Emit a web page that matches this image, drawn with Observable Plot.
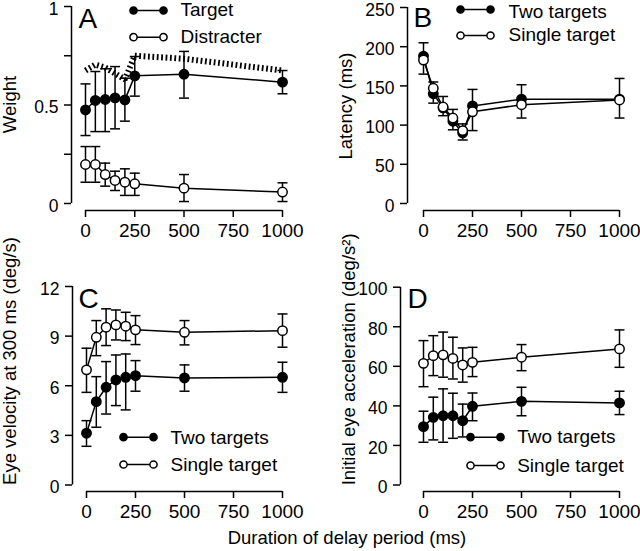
<!DOCTYPE html>
<html><head><meta charset="utf-8">
<script src="https://cdn.jsdelivr.net/npm/d3@7"></script>
<script src="https://cdn.jsdelivr.net/npm/@observablehq/plot@0.6"></script>
<style>
body{margin:0;background:#fff;}
#fig{position:relative;width:640px;height:551px;font-family:"Liberation Sans",Arial,Helvetica,sans-serif;color:#000;overflow:hidden;background:#fff}
.panel{position:absolute}
#xlab{position:absolute;left:0;width:694px;text-align:center;top:527px;font-size:18.5px;line-height:21px}
</style></head><body>
<div id="fig"><div id="xlab">Duration of delay period (ms)</div></div>
<script>
// ---- shared x values ----
const delays = [0, 50, 100, 150, 200, 250, 500, 1000];
const xTicks = [0, 250, 500, 750, 1000];
const xLabel = "Duration of delay period (ms)";

// ---- Panel A: Weight ----
const targetW   = [0.475, 0.523, 0.528, 0.536, 0.526, 0.648, 0.656, 0.616];
const targetWLo = [0.345, 0.365, 0.365, 0.379, 0.418, 0.545, 0.535, 0.557];
const targetWHi = [0.607, 0.670, 0.684, 0.695, 0.636, 0.746, 0.772, 0.675];
const distW     = [0.198, 0.198, 0.147, 0.117, 0.108, 0.100, 0.078, 0.058];
const distWLo   = [0.108, 0.108, 0.088, 0.066, 0.041, 0.041, 0.010, 0.010];
const distWHi   = [0.289, 0.289, 0.205, 0.164, 0.176, 0.154, 0.147, 0.105];
const sumW      = [0.675, 0.705, 0.690, 0.660, 0.630, 0.750, 0.735, 0.675];
const yTicksA = [0, 0.25, 0.5, 0.75, 1];
const yTickLabelsA = ["0", "", "0.5", "", "1"];

// ---- Panel B: Latency ----
const twoLat    = [188, 140, 122, 105, 90, 124.5, 133, 133];
const singleLat = [183, 147, 123, 109, 93, 117, 126, 132];
const latLo     = [165, 128, 112, 94, 81, 93, 109, 109];
const latHi     = [205, 155, 136.5, 120, 101.5, 145.5, 151.5, 159.5];
const yTicksB = [0, 50, 100, 150, 200, 250];

// ---- Panel C: Eye velocity ----
const twoVel      = [3.13, 5.04, 5.91, 6.35, 6.51, 6.61, 6.47, 6.51];
const twoVelLo    = [2.34, 3.49, 4.29, 4.80, 4.54, 5.67, 5.67, 5.60];
const twoVelHi    = [3.89, 6.55, 7.46, 7.86, 7.92, 7.52, 7.26, 7.42];
const singleVel   = [6.96, 8.93, 9.54, 9.68, 9.60, 9.38, 9.23, 9.33];
const singleVelLo = [5.60, 7.82, 8.43, 8.77, 8.73, 8.49, 8.47, 8.33];
const singleVelHi = [8.27, 9.94, 10.65, 10.58, 10.44, 10.24, 9.94, 10.34];
const yTicksC = [0, 3, 6, 9, 12];

// ---- Panel D: Initial eye acceleration ----
const twoAcc      = [29.5, 34.2, 35.0, 35.0, 32.5, 39.8, 42.3, 41.5];
const twoAccLo    = [21.6, 22.8, 21.6, 23.6, 24.3, 32.5, 35.0, 35.6];
const twoAccHi    = [37.3, 44.4, 48.6, 46.4, 40.9, 46.5, 49.4, 47.4];
const singleAcc   = [61.5, 65.4, 65.8, 64.0, 60.7, 62.0, 64.6, 68.8];
const singleAccLo = [49.7, 55.3, 54.5, 53.6, 52.0, 54.8, 57.8, 59.5];
const singleAccHi = [73.0, 75.5, 77.3, 74.7, 69.3, 69.6, 71.0, 78.4];
const yTicksD = [0, 20, 40, 60, 80, 100];

const legendTD = ["Two targets", "Single target"];
const legendA = ["Target", "Distracter"];

// ---- helpers ----
const rows = (ys, lo, hi) => delays.map((x, i) => ({x, y: ys[i], lo: lo ? lo[i] : null, hi: hi ? hi[i] : null}));
const capSymbol = {draw(ctx) { ctx.moveTo(-5, 0); ctx.lineTo(5, 0); }};
const legendSymbol = {draw(ctx) {
  const h = 15, r = 3.6;
  ctx.moveTo(-h + r, 0); ctx.lineTo(h - r, 0);
  ctx.moveTo(-h + r, 0); ctx.arc(-h, 0, r, 0, 2 * Math.PI);
  ctx.moveTo(h + r, 0); ctx.arc(h, 0, r, 0, 2 * Math.PI);
}};
const SW = 1.5;

function seriesMarks(s) {
  const d = s.data;
  const m = [];
  if (s.errors) {
    m.push(Plot.ruleX(d, {x: "x", y1: "lo", y2: "hi", stroke: "black", strokeWidth: SW}));
    m.push(Plot.dot(d, {x: "x", y: "hi", symbol: capSymbol, stroke: "black", strokeWidth: SW, fill: "none"}));
    m.push(Plot.dot(d, {x: "x", y: "lo", symbol: capSymbol, stroke: "black", strokeWidth: SW, fill: "none"}));
  }
  return m;
}
function lineMarks(s) {
  return [Plot.line(s.data, {x: "x", y: "y", stroke: "black", strokeWidth: SW})];
}
function dotMarks(s) {
  return [Plot.dot(s.data, {x: "x", y: "y", r: 4.7, stroke: "black", strokeWidth: SW, fill: s.filled ? "black" : "white"})];
}

function panel(cfg) {
  const {left, top, width, height, mL, mR, mT, mB, iL, iB, yDomain, yTicks, yTickFormat,
         yLabel, yLabelDx, yLabelDy, letter, letterDx, letterDy, series, extra = [], legend} = cfg;
  const xDomain = [xTicks[0], xTicks[xTicks.length - 1]];
  const marks = [
    ...extra,
    ...series.flatMap(seriesMarks),
    ...series.flatMap(lineMarks),
    ...series.flatMap(dotMarks),
    // axis lines (offset from data, open corner)
    Plot.ruleX([xDomain[0]], {x: d => d, y1: yDomain[0], y2: yDomain[1], dx: -iL, stroke: "black", strokeWidth: SW}),
    Plot.ruleY([yDomain[0]], {y: d => d, x1: xDomain[0], x2: xDomain[1], dy: iB, stroke: "black", strokeWidth: SW}),
    // y ticks and y tick labels (labels sit slightly below their ticks, as in the reference)
    Plot.axisY({ticks: yTicks, tickFormat: () => "", tickSize: 7, label: null, strokeWidth: SW}),
    Plot.axisY({ticks: yTicks, tickFormat: yTickFormat, tickSize: 0, tickPadding: 13, dy: 2.5, label: null, fontSize: 17.5}),
    Plot.axisX({ticks: xTicks, tickFormat: d => String(d), tickSize: 7, tickPadding: 6, label: null, strokeWidth: SW, fontSize: 19}),
    Plot.text([yLabel], {x: null, y: null, text: d => d, frameAnchor: "left", rotate: -90, lineAnchor: "top",
      textAnchor: "middle", dx: yLabelDx, dy: yLabelDy, fill: "black"}),
    Plot.text([letter], {x: null, y: null, text: d => d, frameAnchor: "top-left", textAnchor: "start", lineAnchor: "top",
      dx: letterDx, dy: letterDy, fontSize: 28, fill: "black"})
  ];
  for (const L of legend) {
    marks.push(Plot.dot([L.label], {x: null, y: null, frameAnchor: "top-left", dx: L.dx, dy: L.dy, symbol: legendSymbol,
      stroke: "black", strokeWidth: SW, fill: L.filled ? "black" : "white"}));
    marks.push(Plot.text([L.label], {x: null, y: null, text: d => d, frameAnchor: "top-left", dx: L.tdx, dy: L.tdy,
      textAnchor: "start", lineAnchor: "middle", fill: "black", fontSize: 19}));
  }
  const chart = Plot.plot({
    width, height,
    marginLeft: mL, marginRight: mR, marginTop: mT, marginBottom: mB,
    x: {domain: xDomain, insetLeft: iL},
    y: {domain: yDomain, insetBottom: iB},
    style: {fontFamily: '"Liberation Sans", Arial, Helvetica, sans-serif', fontSize: "18.5px", background: "transparent", color: "black", overflow: "visible"},
    marks
  });
  chart.classList.add("panel");
  chart.style.left = left + "px";
  chart.style.top = top + "px";
  document.getElementById("fig").appendChild(chart);
}

// Panel A
panel({
  left: 0, top: 0, width: 320, height: 245, mL: 71, mR: 38, mT: 6, mB: 35, iL: 14, iB: 7,
  yDomain: [0, 1], yTicks: yTicksA, yTickFormat: (d, i) => yTickLabelsA[yTicksA.indexOf(d)],
  yLabel: "Weight", yLabelDx: -69, yLabelDy: -4, letter: "A", letterDx: 7, letterDy: 2,
  extra: [Plot.line(rows(sumW), {x: "x", y: "y", stroke: "black", strokeWidth: 6, strokeDasharray: "1.8,2.6", strokeLinecap: "butt", strokeLinejoin: "miter"})],
  series: [
    {data: rows(targetW, targetWLo, targetWHi), errors: true, filled: true},
    {data: rows(distW, distWLo, distWHi), errors: true, filled: false}
  ],
  legend: [
    {label: legendA[0], filled: true, dx: 77, dy: 4, tdx: 109, tdy: 3},
    {label: legendA[1], filled: false, dx: 77, dy: 30.7, tdx: 109, tdy: 30}
  ]
});

// Panel B
panel({
  left: 320, top: 0, width: 320, height: 245, mL: 87, mR: 21, mT: 7, mB: 35, iL: 16, iB: 7,
  yDomain: [0, 250], yTicks: yTicksB, yTickFormat: d => String(d),
  yLabel: "Latency (ms)", yLabelDx: -69, yLabelDy: -3, letter: "B", letterDx: 6, letterDy: 0,
  series: [
    {data: rows(twoLat, latLo, latHi), errors: true, filled: true},
    {data: rows(singleLat), errors: false, filled: false}
  ],
  legend: [
    {label: legendTD[0], filled: true, dx: 68, dy: 2, tdx: 101, tdy: 4},
    {label: legendTD[1], filled: false, dx: 68, dy: 28, tdx: 101, tdy: 27.5}
  ]
});

// Panel C
panel({
  left: 0, top: 245, width: 320, height: 306, mL: 72, mR: 38, mT: 41, mB: 60, iL: 14, iB: 6.5,
  yDomain: [0, 12], yTicks: yTicksC, yTickFormat: d => String(d),
  yLabel: "Eye velocity at 300 ms (deg/s)", yLabelDx: -70, yLabelDy: -28, letter: "C", letterDx: 6, letterDy: 2,
  series: [
    {data: rows(twoVel, twoVelLo, twoVelHi), errors: true, filled: true},
    {data: rows(singleVel, singleVelLo, singleVelHi), errors: true, filled: false}
  ],
  legend: [
    {label: legendTD[0], filled: true, dx: 66, dy: 150.7, tdx: 98, tdy: 151},
    {label: legendTD[1], filled: false, dx: 66, dy: 178, tdx: 98, tdy: 178}
  ]
});

// Panel D
panel({
  left: 320, top: 245, width: 320, height: 306, mL: 80, mR: 21, mT: 41.7, mB: 60, iL: 23, iB: 6.5,
  yDomain: [0, 100], yTicks: yTicksD, yTickFormat: d => String(d),
  yLabel: "Initial eye acceleration (deg/s²)", yLabelDx: -59, yLabelDy: -30, letter: "D", letterDx: 7, letterDy: 1,
  series: [
    {data: rows(twoAcc, twoAccLo, twoAccHi), errors: true, filled: true},
    {data: rows(singleAcc, singleAccLo, singleAccHi), errors: true, filled: false}
  ],
  legend: [
    {label: legendTD[0], filled: true, dx: 85, dy: 150, tdx: 116.7, tdy: 150},
    {label: legendTD[1], filled: false, dx: 85, dy: 178.3, tdx: 116.7, tdy: 178.3}
  ]
});
</script>
</body></html>
